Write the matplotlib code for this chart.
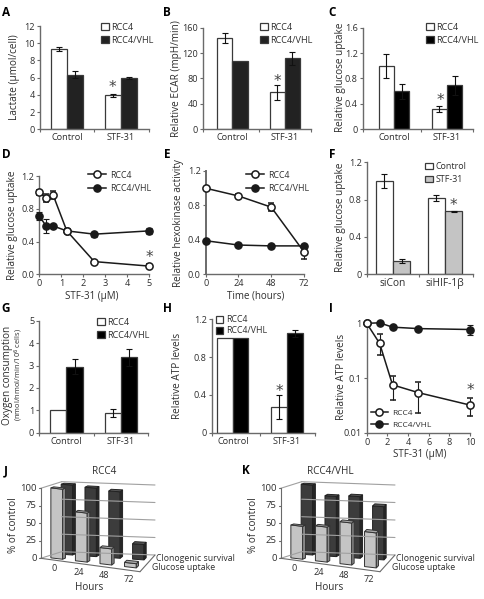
import matplotlib

matplotlib.use("Agg")
import matplotlib.pyplot as plt
import numpy as np
from matplotlib.lines import Line2D
from matplotlib.patches import Patch, Polygon
from matplotlib.transforms import Affine2D

W, H = 484, 599
TXT = "#2e2e2e"
AX = "#6a6a6a"

plt.rcParams["font.family"] = ["Open Sans", "DejaVu Sans"]
plt.rcParams["text.color"] = TXT
plt.rcParams["axes.labelcolor"] = TXT
plt.rcParams["xtick.labelcolor"] = TXT
plt.rcParams["ytick.labelcolor"] = TXT

# bar panels: [RCC4/Control, VHL/Control, RCC4/STF, VHL/STF]
cats = ["Control", "STF-31"]
a_vals = [9.3, 6.35, 3.95, 6.0]
a_errs = [0.25, 0.4, 0.15, 0.12]
b_vals = [144, 108, 58, 112]
b_errs = [8, 0, 12, 10]
c_vals = [1.0, 0.6, 0.32, 0.69]
c_errs = [0.19, 0.12, 0.05, 0.15]
f_cats = ["siCon", "siHIF-1β"]
f_vals = [1.0, 0.14, 0.82, 0.675]
f_errs = [0.08, 0.02, 0.03, 0.005]
g_vals = [1.0, 2.95, 0.9, 3.37]
g_errs = [0, 0.35, 0.18, 0.37]
h_vals = [1.0, 1.0, 0.27, 1.05]
h_errs = [0, 0, 0.13, 0.04]

# line panels
d_x = [0, 0.31, 0.625, 1.25, 2.5, 5]
d_rcc4 = [1.0, 0.93, 0.97, 0.53, 0.155, 0.1]
d_rcc4_err = [0.03, 0.05, 0.05, 0.02, 0.02, 0.02]
d_vhl = [0.71, 0.59, 0.59, 0.53, 0.49, 0.53]
d_vhl_err = [0.05, 0.08, 0.03, 0.03, 0.03, 0.04]
e_x = [0, 24, 48, 72]
e_rcc4 = [1.0, 0.91, 0.78, 0.26]
e_rcc4_err = [0.0, 0.02, 0.05, 0.08]
e_vhl = [0.39, 0.34, 0.33, 0.33]
e_vhl_err = [0.02, 0.02, 0.02, 0.02]
i_x = [0, 1.25, 2.5, 5, 10]
i_rcc4 = [1.0, 0.43, 0.075, 0.054, 0.032]
i_rcc4_lo = [1.0, 0.26, 0.04, 0.023, 0.02]
i_rcc4_hi = [1.0, 0.63, 0.11, 0.085, 0.043]
i_vhl = [1.0, 1.02, 0.85, 0.8, 0.77]
i_vhl_lo = [1.0, 1.0, 0.8, 0.75, 0.6]
i_vhl_hi = [1.0, 1.04, 0.9, 0.85, 0.95]

# 3D panels
hours = ["0", "24", "48", "72"]
j_glucose = [100, 70, 23, 6]
j_clono = [100, 98, 95, 22]
k_glucose = [47, 50, 60, 50]
k_clono = [100, 86, 88, 76]

fig = plt.figure(figsize=(W / 100, H / 100), dpi=100, facecolor="white")
PX = Affine2D().scale(1, -1).translate(0, H)


def ax_px(l, t, r, b):
    ax = fig.add_axes([l / W, 1 - b / H, (r - l) / W, (b - t) / H])
    ax.patch.set_alpha(0)
    return ax


def text_px(x, y, s, **kw):
    kw.setdefault("ha", "center")
    kw.setdefault("va", "center")
    return fig.text(x, y, s, transform=PX, **kw)


def style(ax, fs=6.6):
    for side in ["top", "right"]:
        ax.spines[side].set_visible(False)
    for side in ["left", "bottom"]:
        ax.spines[side].set_color(AX)
        ax.spines[side].set_linewidth(1.0)
    ax.tick_params(which="major", length=2.2, width=0.8, color=AX, labelsize=fs, pad=1.5)


def star(ax, x, y, size=11):
    ax.text(x, y, "*", ha="center", va="center", fontsize=size, color="#444444",
            fontfamily="DejaVu Sans")


def bar_panel(rect, vals, errs, labels, ylim, yticks, ylabels, xlim, width, fill2,
              fill1="white", fs=6.6, xfs=6.6):
    ax = ax_px(*rect)
    style(ax, fs)
    xs = np.array([-width / 2, width / 2, 1 - width / 2, 1 + width / 2])
    fills = [fill1, fill2, fill1, fill2]
    ax.bar(xs, vals, width, color=fills, edgecolor="#3a3a3a", linewidth=0.9, zorder=2)
    for x, v, e in zip(xs, vals, errs):
        if e > 0:
            ax.errorbar(x, v, yerr=e, color="#111111", elinewidth=0.8, capsize=2.2,
                        capthick=0.8, zorder=3)
    ax.set_xlim(*xlim)
    ax.set_ylim(*ylim)
    ax.set_yticks(yticks)
    ax.set_yticklabels(ylabels)
    ax.set_xticks([xlim[0], 0.5, xlim[1]])
    ax.set_xticklabels([])
    ax.set_xticks([0, 1], minor=True)
    ax.set_xticklabels(labels, minor=True, fontsize=xfs)
    ax.tick_params(axis="x", which="minor", length=0, pad=3)
    return ax


def bar_legend(ax, x, y, labels, colors, fs=6.6, gap=0.45, zorder=5):
    handles = [Patch(facecolor=c, edgecolor="#3a3a3a", linewidth=0.9) for c in colors]
    leg = ax.legend(handles, labels, loc="upper left", bbox_to_anchor=(x, y),
                    bbox_transform=PX, frameon=False, fontsize=fs, borderpad=0,
                    borderaxespad=0, handlelength=0.85, handleheight=0.8,
                    handletextpad=0.3, labelspacing=gap)
    leg.set_zorder(zorder)


def line_legend(ax, x, y, labels, fs=6.3):
    handles = [
        Line2D([], [], color="#1a1a1a", lw=1.1, marker="o", ms=5.2, mfc="white",
               mec="#1a1a1a", mew=1.1),
        Line2D([], [], color="#1a1a1a", lw=1.1, marker="o", ms=5.2, mfc="#1a1a1a",
               mec="#1a1a1a"),
    ]
    ax.legend(handles, labels, loc="upper left", bbox_to_anchor=(x, y),
              bbox_transform=PX, frameon=False, fontsize=fs, borderpad=0, borderaxespad=0,
              handlelength=2.0, handletextpad=0.5, labelspacing=0.55)


def two_lines(ax, x, y1, e1, y2, e2):
    ax.errorbar(x, y2, yerr=e2, color="#1a1a1a", lw=1.1, marker="o", ms=5.2, mfc="#1a1a1a",
                mec="#1a1a1a", elinewidth=0.8, capsize=2, capthick=0.8, zorder=3, clip_on=False)
    ax.errorbar(x, y1, yerr=e1, color="#1a1a1a", lw=1.1, marker="o", ms=5.2, mfc="white",
                mec="#1a1a1a", mew=1.1, elinewidth=0.8, capsize=2, capthick=0.8, zorder=4,
                clip_on=False)


# A
ax = bar_panel((40, 26, 149, 129.3), a_vals, a_errs, cats, (0, 12), range(0, 13, 2),
               [str(v) for v in range(0, 13, 2)], (-0.5, 1.52), 0.296, "#222222")
bar_legend(ax, 101, 23, ["RCC4", "RCC4/VHL"], ["white", "#222222"])
star(ax, 0.85, 4.85)
text_px(15, 77, "Lactate (µmol/cell)", rotation=90, fontsize=7.2)

# B
ax = bar_panel((203, 27.7, 311, 129.3), b_vals, b_errs, cats, (0, 160), range(0, 161, 40),
               [str(v) for v in range(0, 161, 40)], (-0.56, 1.5), 0.29, "#222222")
bar_legend(ax, 260, 23, ["RCC4", "RCC4/VHL"], ["white", "#222222"])
star(ax, 0.86, 76)
text_px(177, 79, "Relative ECAR (mpH/min)", rotation=90, fontsize=7.2)

# C
ax = bar_panel((363, 27.7, 473, 129.3), c_vals, c_errs, cats, (0, 1.6), [0, 0.4, 0.8, 1.2, 1.6],
               ["0", "0.4", "0.8", "1.2", "1.6"], (-0.585, 1.49), 0.29, "black")
bar_legend(ax, 426, 23, ["RCC4", "RCC4/VHL"], ["white", "black"])
star(ax, 0.87, 0.46)
text_px(340, 77, "Relative glucose uptake", rotation=90, fontsize=7.2)

# D
ax = ax_px(39.3, 176, 149.3, 274.3)
style(ax)
two_lines(ax, d_x, d_rcc4, d_rcc4_err, d_vhl, d_vhl_err)
ax.set_xlim(0, 5)
ax.set_ylim(0, 1.2)
ax.set_xticks(range(6))
ax.set_yticks([0, 0.4, 0.8, 1.2])
ax.set_yticklabels(["0.0", "0.4", "0.8", "1.2"])
line_legend(ax, 88, 170.5, ["RCC4", "RCC4/VHL"])
star(ax, 5, 0.2)
text_px(13, 225, "Relative glucose uptake", rotation=90, fontsize=7.2)
text_px(92, 296, "STF-31 (µM)", fontsize=7)

# E
ax = ax_px(205.7, 171, 304, 274.3)
style(ax)
ax.spines["left"].set_linewidth(1.4)
two_lines(ax, e_x, e_rcc4, e_rcc4_err, e_vhl, e_vhl_err)
ax.set_xlim(0, 72)
ax.set_ylim(0, 1.2)
ax.set_xticks(e_x)
ax.set_yticks([0, 0.4, 0.8, 1.2])
ax.set_yticklabels(["0.0", "0.4", "0.8", "1.2"])
line_legend(ax, 246, 170.5, ["RCC4", "RCC4/VHL"])
text_px(178, 223, "Relative hexokinase activity", rotation=90, fontsize=7.2)
text_px(256, 296, "Time (hours)", fontsize=7)

# F
ax = bar_panel((367, 162.3, 473, 274.3), f_vals, f_errs, f_cats, (0, 1.2), [0, 0.4, 0.8, 1.2],
               ["0", "0.4", "0.8", "1.2"], (-0.5, 1.54), 0.335, "#c4c4c4", xfs=7.4)
bar_legend(ax, 425, 162, ["Control", "STF-31"], ["white", "#c4c4c4"], fs=6.4)
star(ax, 1.16, 0.74)
text_px(341, 217, "Relative glucose uptake", rotation=90, fontsize=7.2)

# G
ax = bar_panel((39.3, 320.7, 148, 432.7), g_vals, g_errs, cats, (0, 5), range(6),
               [str(v) for v in range(6)], (-0.5, 1.5), 0.296, "black")
bar_legend(ax, 97, 318, ["RCC4", "RCC4/VHL"], ["white", "black"])
text_px(8, 375, "Oxygen consumption", rotation=90, fontsize=7.2)
text_px(19, 375, "(nmol/nmol/min/10$^{6}$ cells)", rotation=90, fontsize=5.4)

# H
ax = bar_panel((211.7, 319.3, 315, 432.7), h_vals, h_errs, cats, (0, 1.2), [0, 0.4, 0.8, 1.2],
               ["0", "0.4", "0.8", "1.2"], (-0.39, 1.52), 0.29, "black")
bar_legend(ax, 216, 315.5, ["RCC4", "RCC4/VHL"], ["white", "black"], fs=6.3, gap=0.2)
star(ax, 0.857, 0.44)
text_px(178, 376, "Relative ATP levels", rotation=90, fontsize=7.2)

# I
ax = ax_px(366.7, 323.3, 470, 432.7)
style(ax)
ax.set_yscale("log")
i_e1 = [np.array(i_rcc4) - np.array(i_rcc4_lo), np.array(i_rcc4_hi) - np.array(i_rcc4)]
i_e2 = [np.array(i_vhl) - np.array(i_vhl_lo), np.array(i_vhl_hi) - np.array(i_vhl)]
two_lines(ax, i_x, i_rcc4, i_e1, i_vhl, i_e2)
ax.set_xlim(0, 10)
ax.set_ylim(0.01, 1)
ax.set_xticks(range(0, 11, 2))
ax.set_yticks([0.01, 0.1, 1])
ax.set_yticklabels(["0.01", "0.1", "1"])
ax.minorticks_off()
line_legend(ax, 371, 409, ["RCC4", "RCC4/VHL"], fs=6.0)
star(ax, 10, 0.058)
text_px(341, 377, "Relative ATP levels", rotation=90, fontsize=7.2)
text_px(420, 454, "STF-31 (µM)", fontsize=7)


def bars_3d(dx, front, back, title, title_x, ylabel_x):
    ax = ax_px(0, 0, W, H)
    ax.set_xlim(0, W)
    ax.set_ylim(H, 0)
    ax.axis("off")
    fl, fr = np.array([40.7 + dx, 558.3]), np.array([140 + dx, 571.7])
    bl, br = np.array([61.7 + dx, 551.7]), np.array([155 + dx, 555])
    zs = 0.7

    def proj(i, s, z):
        t = i / 4
        p = (1 - s) * ((1 - t) * fl + t * fr) + s * ((1 - t) * bl + t * br)
        return p[0], p[1] - z * zs

    def poly(pts, fc, ec, lw=0.7):
        ax.add_patch(Polygon(pts, closed=True, facecolor=fc, edgecolor=ec, linewidth=lw))

    def wire(a, b, c="#a0a0a0", lw=0.8):
        ax.plot([a[0], b[0]], [a[1], b[1]], color=c, lw=lw, solid_capstyle="round")

    for z in range(0, 101, 25):
        wire(proj(0, 1, z), proj(4, 1, z))
    wire(proj(0, 0, 100), proj(0, 1, 100))
    wire(proj(0, 0, 0), proj(0, 1, 0))
    wire(proj(4, 0, 0), proj(4, 1, 0), "#6a6a6a")
    wire(proj(0, 0, 0), proj(4, 0, 0), "#6a6a6a")
    wire(proj(0, 0, 0), proj(0, 0, 100), "#6a6a6a")
    for z in range(0, 101, 25):
        x0, y0 = proj(0, 0, z)
        wire((x0 - 2, y0), (x0, y0), "#6a6a6a")
        ax.text(x0 - 4, y0, str(z), ha="right", va="center", fontsize=6.8)
    for i, lab in enumerate(hours):
        x0, y0 = proj(i + 0.5, 0, 0)
        ax.text(x0 + 1, y0 + 9, lab, ha="center", va="center", fontsize=6.6)

    w, d = 0.24, 0.07
    styles = [
        (back, 0.75, "#3c3c3c", "#262626", "#555555", "#222222"),
        (front, 0.25, "#c4c4c4", "#8c8c8c", "#a8a8a8", "#333333"),
    ]
    for vals, s, face, side, top, ec in styles:
        for i, v in enumerate(vals):
            c = i + 0.5
            poly([proj(c - w, s - d, 0), proj(c + w, s - d, 0), proj(c + w, s - d, v),
                  proj(c - w, s - d, v)], face, ec)
            poly([proj(c + w, s - d, 0), proj(c + w, s + d, 0), proj(c + w, s + d, v),
                  proj(c + w, s - d, v)], side, ec)
            poly([proj(c - w, s - d, v), proj(c + w, s - d, v), proj(c + w, s + d, v),
                  proj(c - w, s + d, v)], top, ec)

    text_px(156.7 + dx - 0.5, 558.3, "Clonogenic survival", ha="left", fontsize=6.3)
    text_px(151.7 + dx, 567.3, "Glucose uptake", ha="left", fontsize=6.3)
    text_px(title_x, 472, title, fontsize=7.2)
    text_px(ylabel_x, 525, "% of control", rotation=90, fontsize=7.2)
    text_px(89 + dx, 587, "Hours", fontsize=7.2)


bars_3d(0, j_glucose, j_clono, "RCC4", 104, 14)
bars_3d(240, k_glucose, k_clono, "RCC4/VHL", 330, 253)

for letter, x, y in [("A", 6, 13), ("B", 167, 13), ("C", 332, 13), ("D", 6, 155), ("E", 167, 155),
                     ("F", 332, 155), ("G", 6, 309), ("H", 167, 309), ("I", 331, 309),
                     ("J", 6, 471), ("K", 246, 471)]:
    text_px(x, y, letter, fontsize=8.5, fontweight="bold", color="black")

fig.savefig("out.png", dpi=100)
